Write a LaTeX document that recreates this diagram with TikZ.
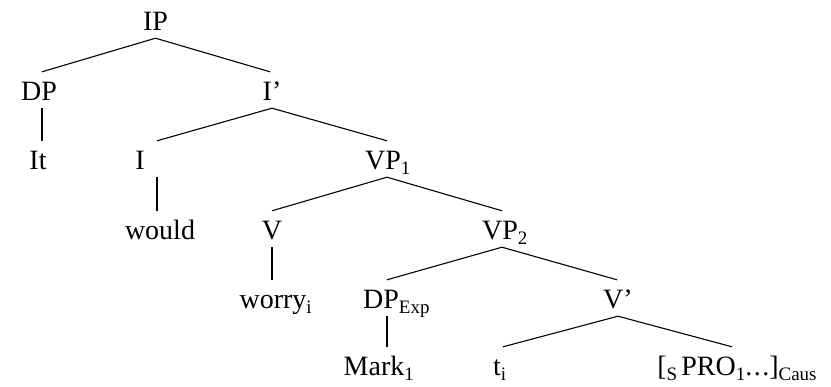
\documentclass[tikz,border=0pt]{standalone}
\usepackage{fontspec}
\setmainfont{Liberation Serif}
% lowered, smaller index text
\newcommand\lsub[1]{\raisebox{-5pt}{\fontsize{19}{19}\selectfont #1}}
\begin{document}
\begin{tikzpicture}[x=1pt,y=-1pt,
  cat/.style={inner sep=0pt, text height=29pt, text depth=7pt, anchor=base,
              font=\fontsize{28}{32}\selectfont},
  branch/.style={line width=1.1pt},
  stem/.style={line width=1.7pt}]
\useasboundingbox (0,0) rectangle (831,387);

% categories and words
\node[cat] (ip)    at (155.5,31) {IP};
\node[cat] (dp)    at (39,101)   {DP};
\node[cat] (ibar)  at (272,101)  {I’};
\node[cat] (it)    at (38,170)   {It};
\node[cat] (i)     at (140,170)  {I};
\node[cat] (vp1)   at (383,170)  {VP\rlap{\lsub{1}}};
\node[cat] (would) at (160,240)  {would};
\node[cat] (v)     at (272,240)  {V};
\node[cat] (vp2)   at (500,240)  {VP\rlap{\lsub{2}}};
\node[cat] (worry) at (273,309)  {worry\rlap{\lsub{i}}};
\node[cat] (dpexp) at (381,309)  {DP\rlap{\lsub{Exp}}};
\node[cat] (vbar)  at (618,309)  {V’};
\node[cat] (mark)  at (374,376)  {Mark\rlap{\lsub{1}}};
\node[cat] (trace) at (497,376)  {t\rlap{\lsub{i}}};
\node[cat] (caus)  at (737,376)
  {[\lsub{S}\hspace{4pt}PRO\lsub{1}.\kern1.5pt.\kern1.5pt.]\lsub{Caus}};

% branches
\draw[branch] (ip.south) -- ([xshift=3pt]dp.north);
\draw[branch] (ip.south) -- ([xshift=-2pt]ibar.north);
\draw[stem]   ([xshift=3pt]dp.south) -- ([xshift=4pt]it.north);
\draw[branch] (ibar.south) -- ([xshift=17pt]i.north);
\draw[branch] (ibar.south) -- ([xshift=4pt]vp1.north);
\draw[stem]   ([xshift=17pt]i.south) -- ([xshift=-3pt]would.north);
\draw[branch] ([xshift=4pt]vp1.south) -- (v.north);
\draw[branch] ([xshift=4pt]vp1.south) -- ([xshift=2pt]vp2.north);
\draw[stem]   (v.south) -- ([xshift=-1pt]worry.north);
\draw[branch] ([xshift=2pt]vp2.south) -- ([xshift=6pt]dpexp.north);
\draw[branch] ([xshift=2pt]vp2.south) -- ([xshift=-1pt]vbar.north);
\draw[stem]   ([xshift=6pt]dpexp.south) -- ([xshift=13pt]mark.north);
\draw[branch] (vbar.south) -- ([xshift=6pt]trace.north);
\draw[branch] (vbar.south) -- ([xshift=-5pt]caus.north);
\end{tikzpicture}
\end{document}
